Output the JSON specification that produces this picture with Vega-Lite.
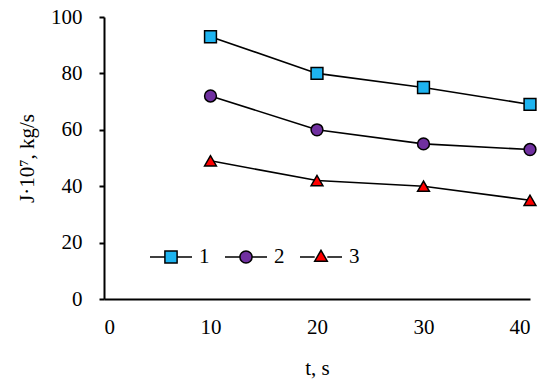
{
  "$schema": "https://vega.github.io/schema/vega-lite/v6.json",
  "autosize": "none",
  "width": 426,
  "height": 282,
  "padding": {"left": 104, "top": 17, "right": 20, "bottom": 86},
  "background": "white",
  "config": {
    "view": {"stroke": null},
    "font": "Liberation Serif",
    "axis": {
      "grid": false,
      "domainColor": "black",
      "domainWidth": 2,
      "tickColor": "black",
      "tickWidth": 2,
      "labelFont": "Liberation Serif",
      "titleFont": "Liberation Serif",
      "labelFontSize": 21,
      "titleFontSize": 21,
      "labelColor": "black",
      "titleColor": "black",
      "titleFontWeight": "normal"
    }
  },
  "data": {
    "values": [
      {"t": 10, "J": 93, "series": "1"},
      {"t": 20, "J": 80, "series": "1"},
      {"t": 30, "J": 75, "series": "1"},
      {"t": 40, "J": 69, "series": "1"},
      {"t": 10, "J": 72, "series": "2"},
      {"t": 20, "J": 60, "series": "2"},
      {"t": 30, "J": 55, "series": "2"},
      {"t": 40, "J": 53, "series": "2"},
      {"t": 10, "J": 49, "series": "3"},
      {"t": 20, "J": 42, "series": "3"},
      {"t": 30, "J": 40, "series": "3"},
      {"t": 40, "J": 35, "series": "3"}
    ]
  },
  "encoding": {
    "y": {
      "field": "J", "type": "quantitative",
      "scale": {"domain": [0, 100], "nice": false},
      "axis": {"values": [0, 20, 40, 60, 80, 100], "tickSize": 5, "labelPadding": 17, "title": "J·10⁷, kg/s", "titlePadding": 13}
    }
  },
  "layer": [
    {
      "mark": {"type": "line", "color": "black", "strokeWidth": 1.6},
      "encoding": {
        "x": {
          "field": "t", "type": "quantitative",
          "scale": {"domain": [0, 40], "nice": false},
          "axis": {"orient": "bottom", "values": [0, 10, 20, 30, 40], "ticks": false, "labelPadding": 17, "title": "t,  s", "titlePadding": 20}
        },
        "detail": {"field": "series"}
      }
    },
    {
      "mark": {"type": "point", "filled": true, "stroke": "black", "strokeWidth": 1.5, "opacity": 1, "size": 140},
      "encoding": {
        "x": {"field": "t", "type": "quantitative", "scale": {"domain": [0, 40], "nice": false}},
        "shape": {
          "field": "series", "type": "nominal",
          "scale": {"domain": ["1", "2", "3"], "range": ["square", "circle", "triangle-up"]},
          "legend": null
        },
        "fill": {
          "field": "series", "type": "nominal",
          "scale": {"domain": ["1", "2", "3"], "range": ["#1EB4F0", "#7030A0", "#FF0000"]},
          "legend": null
        }
      }
    },
    {
      "transform": [{"filter": "datum.J < 0"}],
      "mark": {"type": "point", "filled": true, "opacity": 1},
      "encoding": {
        "x": {"field": "t", "type": "quantitative", "scale": {"domain": [0, 40], "nice": false}},
        "shape": {
          "field": "series", "type": "nominal",
          "scale": {"domain": ["1", "2", "3"], "range": [
            "M-1,0H-0.29M0.29,0H1M-0.29,-0.29H0.29V0.29H-0.29Z",
            "M-1,0H-0.29M0.29,0H1M-0.29,0A0.29,0.29,0,1,0,0.29,0A0.29,0.29,0,1,0,-0.29,0Z",
            "M-1,0H-0.3M0.3,0H1M0,-0.32L0.3,0.2H-0.3Z"
          ]},
          "legend": {
            "title": null,
            "orient": "none",
            "legendX": 45,
            "legendY": 218,
            "direction": "horizontal",
            "symbolSize": 1764,
            "symbolStrokeWidth": 1.5,
            "symbolOpacity": 1,
            "labelFont": "Liberation Serif",
            "labelFontSize": 21,
            "labelColor": "black",
            "labelOffset": 6,
            "columnPadding": 12
          }
        },
        "fill": {
          "field": "series", "type": "nominal",
          "scale": {"domain": ["1", "2", "3"], "range": ["#1EB4F0", "#7030A0", "#FF0000"]}
        },
        "stroke": {
          "field": "series", "type": "nominal",
          "scale": {"domain": ["1", "2", "3"], "range": ["black", "black", "black"]}
        }
      }
    }
  ],
  "resolve": {
    "scale": {"shape": "independent", "fill": "independent", "stroke": "independent"}
  }
}
